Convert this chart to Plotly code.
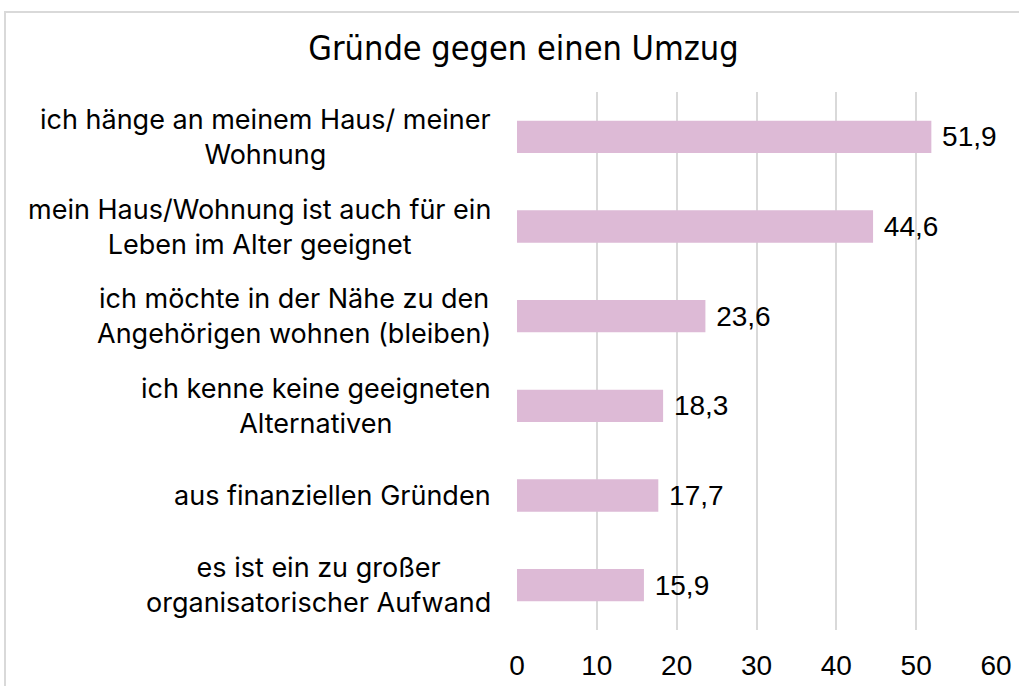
import plotly.graph_objects as go

categories = [
    "ich hänge an meinem Haus/ meiner<br>Wohnung",
    "mein Haus/Wohnung ist auch für ein<br>Leben im Alter geeignet",
    "ich möchte in der Nähe zu den<br>Angehörigen wohnen (bleiben)",
    "ich kenne keine geeigneten<br>Alternativen",
    "aus finanziellen Gründen",
    "es ist ein zu großer<br>organisatorischer Aufwand",
]
values = [51.9, 44.6, 23.6, 18.3, 17.7, 15.9]
x_ticks = [0, 10, 20, 30, 40, 50, 60]

LABEL_FONT = "Inter"
NUM_FONT = "Liberation Sans"
BAR = "#DDBAD6"

W, H = 1019, 686
L, R, T, B = 517, 23, 92, 56
PW, PH = W - L - R, H - T - B

fig = go.Figure(go.Bar(
    x=values, y=categories, orientation="h",
    marker=dict(color=BAR, line=dict(width=0)),
    width=0.36,
    texttemplate=" %{x:.1f}", textposition="outside",
    textfont=dict(family=NUM_FONT, size=28, color="#000000"),
    cliponaxis=False,
))

annotations = []
for c in categories:
    annotations.append(dict(
        x=0, xref="paper", xanchor="right", xshift=-24,
        y=c, yref="y", yanchor="middle",
        text=c, showarrow=False, align="center",
        font=dict(family=LABEL_FONT, size=27, color="#000000"),
    ))

fig.update_layout(
    width=W, height=H,
    margin=dict(l=L, r=R, t=T, b=B, autoexpand=False),
    paper_bgcolor="white", plot_bgcolor="white",
    separators=",.",
    showlegend=False,
    title=dict(text="Gründe gegen einen Umzug", x=(310 + 737) / 2 / W, xanchor="center",
               y=1 - 48 / H, yanchor="middle", automargin=False,
               font=dict(family="DejaVu Sans Condensed, DejaVu Sans", size=34, color="#000000")),
    annotations=annotations,
    shapes=[dict(type="rect", xref="paper", yref="paper",
                 x0=(5 - L) / PW, x1=1.2, y0=-0.3, y1=1 + (T - 12) / PH,
                 line=dict(color="#d9d9d9", width=2), layer="below")],
    xaxis=dict(range=[0, 60], tickvals=x_ticks, showgrid=True, gridcolor="#d9d9d9",
               gridwidth=1.5, zeroline=False, showline=False, ticks="",
               ticklabelstandoff=16, automargin=False,
               tickfont=dict(family=NUM_FONT, size=28, color="#000000")),
    yaxis=dict(categoryorder="array", categoryarray=categories, autorange="reversed",
               showticklabels=False, showgrid=False, zeroline=False, ticks="",
               automargin=False),
)

fig.write_html("out.html", config={"displayModeBar": False},
               post_script="document.body.style.margin='0';")
